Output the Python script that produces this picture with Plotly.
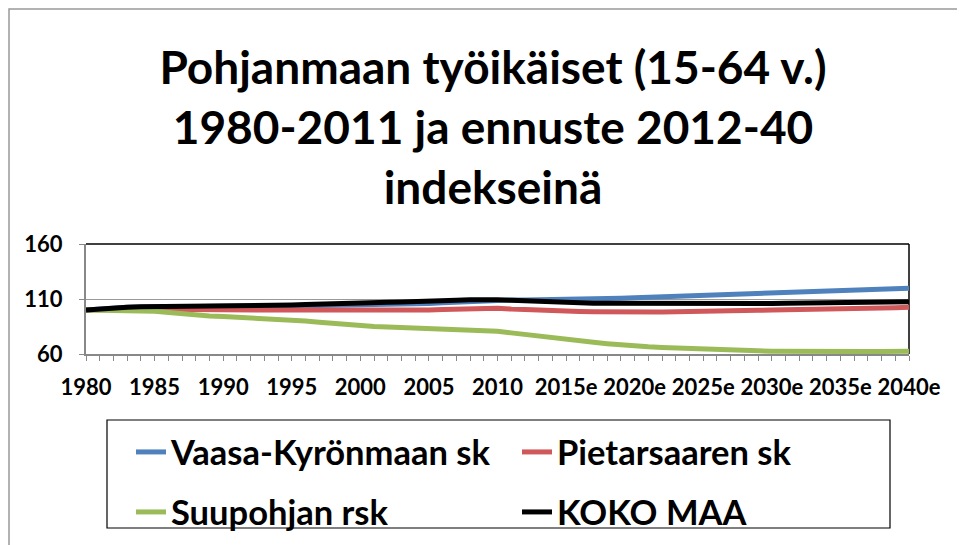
import plotly.graph_objects as go

years = list(range(1980, 2041))
categories = [str(y) if y <= 2011 else f"{y}e" for y in years]
tick_labels = [c if y % 5 == 0 else "" for y, c in zip(years, categories)]

vaasa = [100, 101, 101.8, 102.4, 102.8, 103.0, 103.1, 103.2, 103.3, 103.4,
         103.5, 103.6, 103.7, 103.8, 103.9, 104.0, 104.1, 104.2, 104.3, 104.4,
         104.5, 104.8, 105.0, 105.3, 105.6, 106.0, 106.6, 107.3, 108.0, 108.7,
         109.0, 109.1, 109.2, 109.3, 109.3, 109.4, 109.6, 109.9, 110.3, 110.7,
         111.1, 111.5, 111.9, 112.4, 112.9, 113.4, 113.8, 114.2, 114.6, 114.9,
         115.2, 115.5, 115.8, 116.1, 116.4, 116.7, 117.3, 117.9, 118.5, 119.1, 119.8]
pietarsaari = [100, 100.4, 100.6, 100.8, 100.8, 100.6, 100.4, 100.3, 100.2, 100.1,
               100.0, 100.0, 99.9, 99.9, 100.0, 100.0, 99.8, 99.6, 99.4, 99.2,
               99.0, 99.0, 99.2, 99.4, 99.7, 100.0, 100.4, 100.9, 101.3, 101.6,
               101.5, 100.8, 100.2, 99.7, 99.3, 99.0, 98.7, 98.4, 98.2, 98.0,
               97.8, 97.9, 98.1, 98.5, 98.9, 99.3, 99.4, 99.5, 99.7, 99.8,
               100.0, 100.1, 100.2, 100.3, 100.4, 100.5, 100.8, 101.2, 101.6, 102.0, 102.4]
suupohja = [100, 100, 99.8, 99.5, 99.2, 98.8, 97.6, 96.5, 95.2, 94.5,
            94.0, 93.5, 92.6, 91.8, 91.0, 90.6, 90.0, 88.8, 87.6, 86.6,
            85.6, 85.0, 84.6, 84.2, 83.8, 83.5, 82.8, 81.8, 81.4, 81.2,
            80.6, 79.2, 77.6, 76.0, 74.5, 73.0, 71.8, 70.6, 69.4, 68.2,
            67.2, 66.6, 66.0, 65.4, 64.9, 64.4, 64.0, 63.6, 63.2, 62.9,
            62.6, 62.4, 62.2, 62.1, 62.0, 62.0, 62.1, 62.2, 62.3, 62.4, 62.5]
koko_maa = [100, 101.2, 102.0, 102.6, 102.9, 103.0, 103.0, 103.0, 103.0, 103.1,
            103.3, 103.6, 103.9, 104.1, 104.3, 104.6, 105.0, 105.5, 106.0, 106.4,
            106.7, 106.9, 107.1, 107.3, 107.4, 107.5, 107.9, 108.8, 109.4, 109.7,
            109.4, 108.8, 108.2, 107.6, 107.0, 106.6, 106.4, 106.2, 106.1, 106.0,
            106.0, 106.0, 106.0, 106.0, 106.0, 106.0, 106.0, 106.0, 106.0, 106.0,
            106.0, 106.1, 106.2, 106.3, 106.5, 106.7, 106.9, 107.1, 107.3, 107.5, 107.6]

series_names = ["Vaasa-Kyrönmaan sk", "Pietarsaaren sk", "Suupohjan rsk", "KOKO MAA"]
series_values = [vaasa, pietarsaari, suupohja, koko_maa]
series_colors = ["#4F81BD", "#D0575A", "#9BBB59", "#000000"]
series_legend = ["legend", "legend", "legend2", "legend2"]

y_ticks = [60, 110, 160]

W, H = 965, 545
OFF = 8  # page body margin
L, R, T, B = 78, 64, 236, 199
pw, ph = W - L - R, H - T - B

def px(x):
    return (x - OFF - L) / pw

def py(y):
    return (H - B - (y - OFF)) / ph

fig = go.Figure()
for name, vals, col, lg in zip(series_names, series_values, series_colors, series_legend):
    fig.add_trace(go.Scatter(x=categories, y=vals, mode="lines", name=name,
                             line=dict(color=col, width=5), legend=lg))

font_family = "Lato"
legend_font = dict(family=font_family, size=34.5, color="black", weight="bold")
fig.update_layout(
    width=W, height=H,
    margin=dict(l=L, r=R, t=T, b=B, autoexpand=False),
    paper_bgcolor="white", plot_bgcolor="white",
    title=dict(text="Pohjanmaan työikäiset (15-64 v.)<br>1980-2011 ja ennuste 2012-40<br>indekseinä",
               x=(493 - OFF) / W, xref="container", xanchor="center",
               y=1 - 76 / H, yref="container", yanchor="middle",
               font=dict(family=font_family, size=46, color="black", weight="bold")),
    xaxis=dict(type="category", range=[0, len(categories) - 1],
               tickmode="array", tickvals=categories, ticktext=tick_labels,
               ticks="outside", ticklen=5, tickcolor="#888888", tickwidth=1,
               showline=True, linecolor="#888888", linewidth=2,
               showgrid=False, tickangle=0, ticklabelstandoff=8,
               tickfont=dict(family=font_family, size=22, color="black", weight="bold")),
    yaxis=dict(range=[60, 160], tickmode="array", tickvals=y_ticks,
               ticks="outside", ticklen=5, tickcolor="#888888",
               showline=True, linecolor="#888888", linewidth=2,
               showgrid=True, gridcolor="#999999", gridwidth=1, zeroline=False,
               ticklabelstandoff=12,
               tickfont=dict(family=font_family, size=22, color="black", weight="bold")),
    legend=dict(orientation="h", xref="container", yref="container",
                x=123 / W, xanchor="left", y=1 - 444 / H, yanchor="middle",
                entrywidth=341, entrywidthmode="pixels", bgcolor="rgba(0,0,0,0)",
                font=legend_font),
    legend2=dict(orientation="h", xref="container", yref="container",
                 x=123 / W, xanchor="left", y=1 - 504 / H, yanchor="middle",
                 entrywidth=341, entrywidthmode="pixels", bgcolor="rgba(0,0,0,0)",
                 font=legend_font),
    shapes=[
        # outer chart frame (as close to the page corner as the figure allows)
        dict(type="rect", xref="paper", yref="paper", x0=px(OFF + 1), x1=px(990), y0=py(560), y1=py(OFF + 1),
             line=dict(color="#999999", width=1.5), layer="below"),
        # plot area top and right borders
        dict(type="line", xref="paper", yref="paper", x0=0, x1=1, y0=1, y1=1,
             line=dict(color="black", width=1.5)),
        dict(type="line", xref="paper", yref="paper", x0=1, x1=1, y0=0, y1=1,
             line=dict(color="black", width=1.5), layer="below"),
        # legend box
        dict(type="rect", xref="paper", yref="paper", x0=px(107), x1=px(890), y0=py(528), y1=py(420),
             line=dict(color="black", width=1.2)),
    ],
)

fig.write_html("out.html")
